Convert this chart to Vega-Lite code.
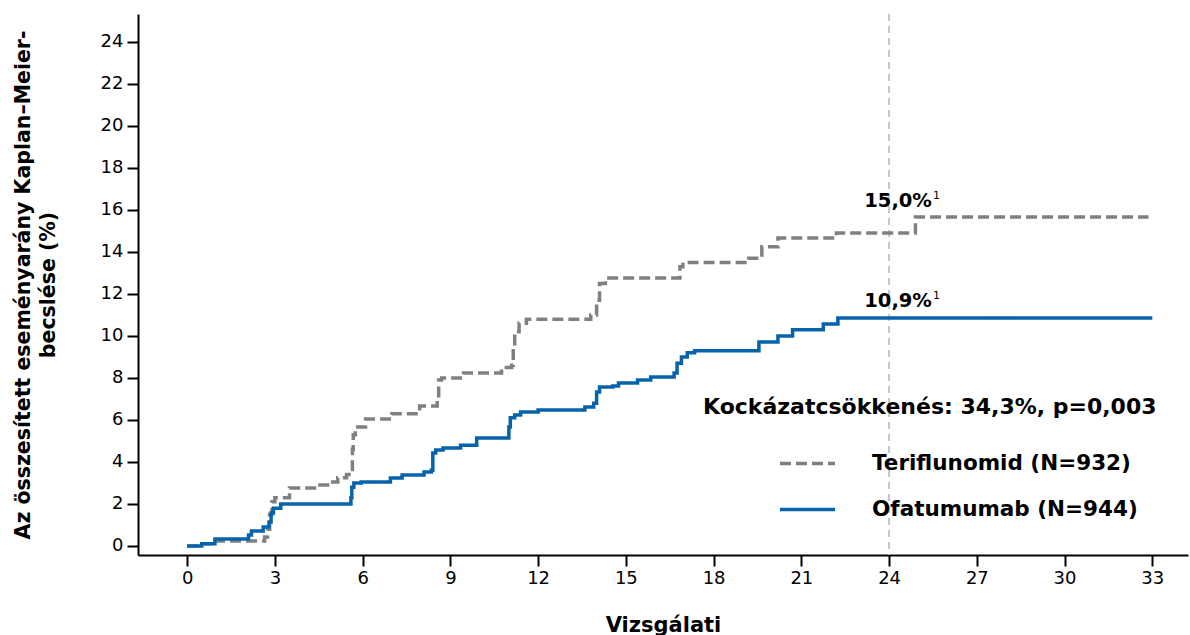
{
  "$schema": "https://vega.github.io/schema/vega-lite/v6.json",
  "width": 1050,
  "height": 541,
  "autosize": {"type": "none"},
  "padding": {"left": 138, "top": 14, "right": 2, "bottom": 80},
  "config": {
    "view": {"stroke": null},
    "font": "DejaVu Sans",
    "axis": {
      "domainColor": "black", "domainWidth": 2, "tickColor": "black", "tickWidth": 2, "tickSize": 11,
      "labelFont": "DejaVu Sans", "labelFontSize": 18, "labelColor": "black", "grid": false,
      "titleFont": "DejaVu Sans", "titleFontSize": 21, "titleFontWeight": "bold", "titleColor": "black"
    }
  },
  "datasets": {
    "km": [
      {"series": "Teriflunomid (N=932)", "month": 0, "pct": 0},
      {"series": "Teriflunomid (N=932)", "month": 0.45, "pct": 0.1},
      {"series": "Teriflunomid (N=932)", "month": 0.9, "pct": 0.24},
      {"series": "Teriflunomid (N=932)", "month": 2.65, "pct": 0.43},
      {"series": "Teriflunomid (N=932)", "month": 2.75, "pct": 0.8},
      {"series": "Teriflunomid (N=932)", "month": 2.82, "pct": 1.5},
      {"series": "Teriflunomid (N=932)", "month": 2.9, "pct": 2.1},
      {"series": "Teriflunomid (N=932)", "month": 3.0, "pct": 2.3},
      {"series": "Teriflunomid (N=932)", "month": 3.5, "pct": 2.76},
      {"series": "Teriflunomid (N=932)", "month": 4.45, "pct": 2.9},
      {"series": "Teriflunomid (N=932)", "month": 4.8, "pct": 3.05},
      {"series": "Teriflunomid (N=932)", "month": 5.15, "pct": 3.25},
      {"series": "Teriflunomid (N=932)", "month": 5.45, "pct": 3.4},
      {"series": "Teriflunomid (N=932)", "month": 5.6, "pct": 3.5},
      {"series": "Teriflunomid (N=932)", "month": 5.65, "pct": 4.6},
      {"series": "Teriflunomid (N=932)", "month": 5.68, "pct": 5.3},
      {"series": "Teriflunomid (N=932)", "month": 5.75, "pct": 5.67},
      {"series": "Teriflunomid (N=932)", "month": 6.1, "pct": 6.05},
      {"series": "Teriflunomid (N=932)", "month": 7.0, "pct": 6.3},
      {"series": "Teriflunomid (N=932)", "month": 7.95, "pct": 6.67},
      {"series": "Teriflunomid (N=932)", "month": 8.55, "pct": 7.0},
      {"series": "Teriflunomid (N=932)", "month": 8.6, "pct": 7.9},
      {"series": "Teriflunomid (N=932)", "month": 8.7, "pct": 8.0},
      {"series": "Teriflunomid (N=932)", "month": 9.45, "pct": 8.24},
      {"series": "Teriflunomid (N=932)", "month": 10.75, "pct": 8.5},
      {"series": "Teriflunomid (N=932)", "month": 11.1, "pct": 8.6},
      {"series": "Teriflunomid (N=932)", "month": 11.15, "pct": 9.5},
      {"series": "Teriflunomid (N=932)", "month": 11.2, "pct": 10.2},
      {"series": "Teriflunomid (N=932)", "month": 11.35, "pct": 10.6},
      {"series": "Teriflunomid (N=932)", "month": 11.6, "pct": 10.8},
      {"series": "Teriflunomid (N=932)", "month": 13.8, "pct": 11.0},
      {"series": "Teriflunomid (N=932)", "month": 14.0, "pct": 11.7},
      {"series": "Teriflunomid (N=932)", "month": 14.1, "pct": 12.5},
      {"series": "Teriflunomid (N=932)", "month": 14.3, "pct": 12.76},
      {"series": "Teriflunomid (N=932)", "month": 16.85, "pct": 13.3},
      {"series": "Teriflunomid (N=932)", "month": 16.95, "pct": 13.5},
      {"series": "Teriflunomid (N=932)", "month": 19.2, "pct": 13.7},
      {"series": "Teriflunomid (N=932)", "month": 19.65, "pct": 14.25},
      {"series": "Teriflunomid (N=932)", "month": 20.2, "pct": 14.66},
      {"series": "Teriflunomid (N=932)", "month": 22.2, "pct": 14.9},
      {"series": "Teriflunomid (N=932)", "month": 24.9, "pct": 15.67},
      {"series": "Teriflunomid (N=932)", "month": 32.87, "pct": 15.67},
      {"series": "Ofatumumab (N=944)", "month": 0, "pct": 0},
      {"series": "Ofatumumab (N=944)", "month": 0.5, "pct": 0.1},
      {"series": "Ofatumumab (N=944)", "month": 0.95, "pct": 0.33},
      {"series": "Ofatumumab (N=944)", "month": 2.1, "pct": 0.52},
      {"series": "Ofatumumab (N=944)", "month": 2.2, "pct": 0.71},
      {"series": "Ofatumumab (N=944)", "month": 2.6, "pct": 0.9},
      {"series": "Ofatumumab (N=944)", "month": 2.8, "pct": 1.14},
      {"series": "Ofatumumab (N=944)", "month": 2.87, "pct": 1.57},
      {"series": "Ofatumumab (N=944)", "month": 2.95, "pct": 1.8},
      {"series": "Ofatumumab (N=944)", "month": 3.2, "pct": 2.0},
      {"series": "Ofatumumab (N=944)", "month": 5.6, "pct": 2.3},
      {"series": "Ofatumumab (N=944)", "month": 5.63, "pct": 2.8},
      {"series": "Ofatumumab (N=944)", "month": 5.7, "pct": 3.0},
      {"series": "Ofatumumab (N=944)", "month": 5.95, "pct": 3.05},
      {"series": "Ofatumumab (N=944)", "month": 6.95, "pct": 3.24},
      {"series": "Ofatumumab (N=944)", "month": 7.35, "pct": 3.38},
      {"series": "Ofatumumab (N=944)", "month": 8.1, "pct": 3.52},
      {"series": "Ofatumumab (N=944)", "month": 8.35, "pct": 3.6},
      {"series": "Ofatumumab (N=944)", "month": 8.4, "pct": 4.43},
      {"series": "Ofatumumab (N=944)", "month": 8.5, "pct": 4.57},
      {"series": "Ofatumumab (N=944)", "month": 8.75, "pct": 4.67},
      {"series": "Ofatumumab (N=944)", "month": 9.35, "pct": 4.8},
      {"series": "Ofatumumab (N=944)", "month": 9.9, "pct": 5.14},
      {"series": "Ofatumumab (N=944)", "month": 11.0, "pct": 5.67},
      {"series": "Ofatumumab (N=944)", "month": 11.05, "pct": 6.1},
      {"series": "Ofatumumab (N=944)", "month": 11.2, "pct": 6.24},
      {"series": "Ofatumumab (N=944)", "month": 11.4, "pct": 6.38},
      {"series": "Ofatumumab (N=944)", "month": 12.0, "pct": 6.48},
      {"series": "Ofatumumab (N=944)", "month": 13.6, "pct": 6.62},
      {"series": "Ofatumumab (N=944)", "month": 13.9, "pct": 6.8},
      {"series": "Ofatumumab (N=944)", "month": 14.0, "pct": 7.33},
      {"series": "Ofatumumab (N=944)", "month": 14.1, "pct": 7.57},
      {"series": "Ofatumumab (N=944)", "month": 14.55, "pct": 7.62},
      {"series": "Ofatumumab (N=944)", "month": 14.75, "pct": 7.76},
      {"series": "Ofatumumab (N=944)", "month": 15.4, "pct": 7.9},
      {"series": "Ofatumumab (N=944)", "month": 15.85, "pct": 8.05},
      {"series": "Ofatumumab (N=944)", "month": 16.65, "pct": 8.24},
      {"series": "Ofatumumab (N=944)", "month": 16.75, "pct": 8.7},
      {"series": "Ofatumumab (N=944)", "month": 16.9, "pct": 9.0},
      {"series": "Ofatumumab (N=944)", "month": 17.1, "pct": 9.2},
      {"series": "Ofatumumab (N=944)", "month": 17.35, "pct": 9.29},
      {"series": "Ofatumumab (N=944)", "month": 19.55, "pct": 9.71},
      {"series": "Ofatumumab (N=944)", "month": 20.2, "pct": 10.0},
      {"series": "Ofatumumab (N=944)", "month": 20.7, "pct": 10.29},
      {"series": "Ofatumumab (N=944)", "month": 21.75, "pct": 10.57},
      {"series": "Ofatumumab (N=944)", "month": 22.25, "pct": 10.86},
      {"series": "Ofatumumab (N=944)", "month": 33.0, "pct": 10.86}
    ],
    "ref": [{"month": 24}],
    "annTop": [{"month": 24, "pct": 15.0, "label": "15,0%"}],
    "annBottom": [{"month": 24, "pct": 10.9, "label": "10,9%"}]
  },
  "encoding": {
    "x": {
      "field": "month", "type": "quantitative",
      "scale": {"domain": [-1.68, 34.22], "nice": false, "zero": false},
      "axis": {"values": [0, 3, 6, 9, 12, 15, 18, 21, 24, 27, 30, 33], "title": "Vizsgálati", "labelPadding": 3, "titlePadding": 27}
    }
  },
  "layer": [
    {
      "data": {"name": "ref"},
      "mark": {"type": "rule", "color": "#c4c4c4", "strokeWidth": 2, "strokeDash": [7, 5]},
      "encoding": {}
    },
    {
      "data": {"name": "km"},
      "mark": {"type": "line", "interpolate": "step-after", "strokeWidth": 3.5},
      "encoding": {
        "y": {
          "field": "pct", "type": "quantitative",
          "scale": {"domain": [-0.43, 25.33], "nice": false, "zero": false},
          "axis": {"values": [0, 2, 4, 6, 8, 10, 12, 14, 16, 18, 20, 22, 24], "title": ["Az összesített eseményarány Kaplan–Meier-", "becslése (%)"], "labelPadding": 4, "titlePadding": 42, "titleLineHeight": 25, "titleFontSize": 20.5}
        },
        "color": {
          "field": "series", "type": "nominal",
          "scale": {"domain": ["Teriflunomid (N=932)", "Ofatumumab (N=944)"], "range": ["#808080", "#0563AB"]},
          "legend": {"title": "Kockázatcsökkenés: 34,3%, p=0,003", "orient": "none", "legendX": 565, "legendY": 383, "symbolType": "stroke", "symbolSize": 3025, "symbolStrokeWidth": 3.5, "symbolOffset": 75, "labelOffset": 35, "labelFont": "DejaVu Sans", "labelFontSize": 21.5, "labelFontWeight": "bold", "labelColor": "black", "labelLimit": 1000, "titleFont": "DejaVu Sans", "titleFontSize": 22, "titleFontWeight": "bold", "titleColor": "black", "titleLimit": 1000, "rowPadding": 6, "titlePadding": 15, "padding": 0}
        },
        "strokeDash": {
          "field": "series", "type": "nominal",
          "scale": {"domain": ["Teriflunomid (N=932)", "Ofatumumab (N=944)"], "range": [[11, 5], [1, 0]]},
          "legend": {"title": "Kockázatcsökkenés: 34,3%, p=0,003", "orient": "none", "legendX": 565, "legendY": 383, "symbolType": "stroke", "symbolSize": 3025, "symbolStrokeWidth": 3.5, "symbolOffset": 75, "labelOffset": 35, "labelFont": "DejaVu Sans", "labelFontSize": 21.5, "labelFontWeight": "bold", "labelColor": "black", "labelLimit": 1000, "titleFont": "DejaVu Sans", "titleFontSize": 22, "titleFontWeight": "bold", "titleColor": "black", "titleLimit": 1000, "rowPadding": 6, "titlePadding": 15, "padding": 0}
        }
      }
    },
    {
      "data": {"name": "annTop"},
      "mark": {"type": "text", "font": "DejaVu Sans", "fontSize": 19.5, "fontWeight": "bold", "color": "black", "align": "center", "baseline": "alphabetic", "dx": 9, "dy": -24},
      "encoding": {"y": {"field": "pct", "type": "quantitative"}, "text": {"field": "label"}}
    },
    {
      "data": {"name": "annTop"},
      "mark": {"type": "text", "font": "DejaVu Sans", "fontSize": 11, "color": "black", "align": "left", "baseline": "alphabetic", "dx": 44, "dy": -32},
      "encoding": {"y": {"field": "pct", "type": "quantitative"}, "text": {"value": "1"}}
    },
    {
      "data": {"name": "annBottom"},
      "mark": {"type": "text", "font": "DejaVu Sans", "fontSize": 19.5, "fontWeight": "bold", "color": "black", "align": "center", "baseline": "alphabetic", "dx": 9, "dy": -10},
      "encoding": {"y": {"field": "pct", "type": "quantitative"}, "text": {"field": "label"}}
    },
    {
      "data": {"name": "annBottom"},
      "mark": {"type": "text", "font": "DejaVu Sans", "fontSize": 11, "color": "black", "align": "left", "baseline": "alphabetic", "dx": 44, "dy": -18},
      "encoding": {"y": {"field": "pct", "type": "quantitative"}, "text": {"value": "1"}}
    }
  ]
}
